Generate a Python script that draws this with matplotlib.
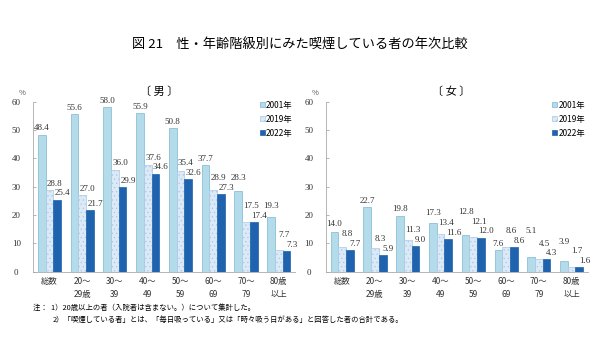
import matplotlib
matplotlib.use('Agg')
import matplotlib.pyplot as plt
import numpy as np

plt.rcParams['font.family'] = ['Noto Sans CJK JP', 'DejaVu Sans']
plt.rcParams['hatch.linewidth'] = 0.4

groups = ['総数', '20～\n29歳', '30～\n39', '40～\n49', '50～\n59', '60～\n69', '70～\n79', '80歳\n以上']
years = ['2001年', '2019年', '2022年']
male_2001 = [48.4, 55.6, 58.0, 55.9, 50.8, 37.7, 28.3, 19.3]
male_2019 = [28.8, 27.0, 36.0, 37.6, 35.4, 28.9, 17.5, 7.7]
male_2022 = [25.4, 21.7, 29.9, 34.6, 32.6, 27.3, 17.4, 7.3]
female_2001 = [14.0, 22.7, 19.8, 17.3, 12.8, 7.6, 5.1, 3.9]
female_2019 = [8.8, 8.3, 11.3, 13.4, 12.1, 8.6, 4.5, 1.7]
female_2022 = [7.7, 5.9, 9.0, 11.6, 12.0, 8.6, 4.3, 1.6]

fills = ['#b4dbe9', '#dce9f6', '#1f62ad']
edges = ['#7db8d2', '#a9c8e6', '#1f62ad']
hatches = [None, '....', None]
num_font = 'Liberation Serif'

fig = plt.figure(figsize=(6, 3.46), dpi=100)
fig.text(0.5, 0.87, '図 21　性・年齢階級別にみた喫煙している者の年次比較',
         ha='center', va='center', fontsize=9.5)

x = np.arange(len(groups))
w = 0.235
gap = 3.4


def panel(rect, data, title):
    ax = fig.add_axes(rect)
    for i, vals in enumerate(data):
        pos = x + (i - 1) * w
        ax.bar(pos, vals, w, color=fills[i], edgecolor=edges[i], linewidth=0.5,
               hatch=hatches[i], label=years[i])
    # value labels, staggered upward when neighbours would collide
    prev_last = None
    for g in range(len(groups)):
        ys = [None] * 3
        for i in (2, 1, 0):
            y = data[i][g] + 2.2
            if i < 2 and abs(y - ys[i + 1]) < gap:
                y = ys[i + 1] + gap
            ys[i] = y
        if prev_last is not None and abs(ys[0] - prev_last) < gap and ys[0] > prev_last - 0.5:
            ys[0] = prev_last + gap
        prev_last = ys[2]
        for i in range(3):
            dx = 0 if i == 0 else 0.16
            ax.text(g + (i - 1) * w + dx, ys[i], f'{data[i][g]:.1f}', ha='center',
                    va='center', fontsize=6.5, family=num_font, color='#333333')
    ax.set_xlim(-0.5, 7.5)
    ax.set_ylim(0, 60)
    ax.set_yticks(range(0, 61, 10))
    ax.set_xticks(x)
    ax.set_xticklabels(groups, fontsize=6, linespacing=1.5, color='#333333')
    for lab in ax.get_yticklabels():
        lab.set_family(num_font)
        lab.set_fontsize(6.5)
        lab.set_horizontalalignment('center')
    ax.tick_params(axis='x', length=0, pad=4)
    ax.tick_params(axis='y', direction='in', length=2, width=0.5, colors='#999999',
                   labelcolor='#333333', pad=12)
    for s in ['top', 'right']:
        ax.spines[s].set_visible(False)
    for s in ['left', 'bottom']:
        ax.spines[s].set_color('#aaaaaa')
        ax.spines[s].set_linewidth(0.6)
    ax.legend(loc='upper right', bbox_to_anchor=(1.02, 1.05), frameon=False,
              fontsize=6, handlelength=0.6, handleheight=0.6, handletextpad=0.2,
              labelspacing=0.6)
    ax.text(-0.04, 1.03, '%', transform=ax.transAxes, fontsize=5.5, ha='center',
            va='bottom', color='#555555')
    ax.text(0.48, 1.03, title, transform=ax.transAxes, fontsize=8, ha='center',
            va='bottom')
    return ax


panel([0.055, 0.215, 0.437, 0.491], [male_2001, male_2019, male_2022], '〔 男 〕')
panel([0.543, 0.215, 0.437, 0.491], [female_2001, female_2019, female_2022], '〔 女 〕')

fig.text(0.055, 0.11, '注：  1）20歳以上の者（入院者は含まない。）について集計した。',
         fontsize=5.3, va='center', ha='left')
fig.text(0.087, 0.075, '2）「喫煙している者」とは、「毎日吸っている」又は「時々吸う日がある」と回答した者の合計である。',
         fontsize=5.3, va='center', ha='left')

fig.savefig('out.png', dpi=100)
